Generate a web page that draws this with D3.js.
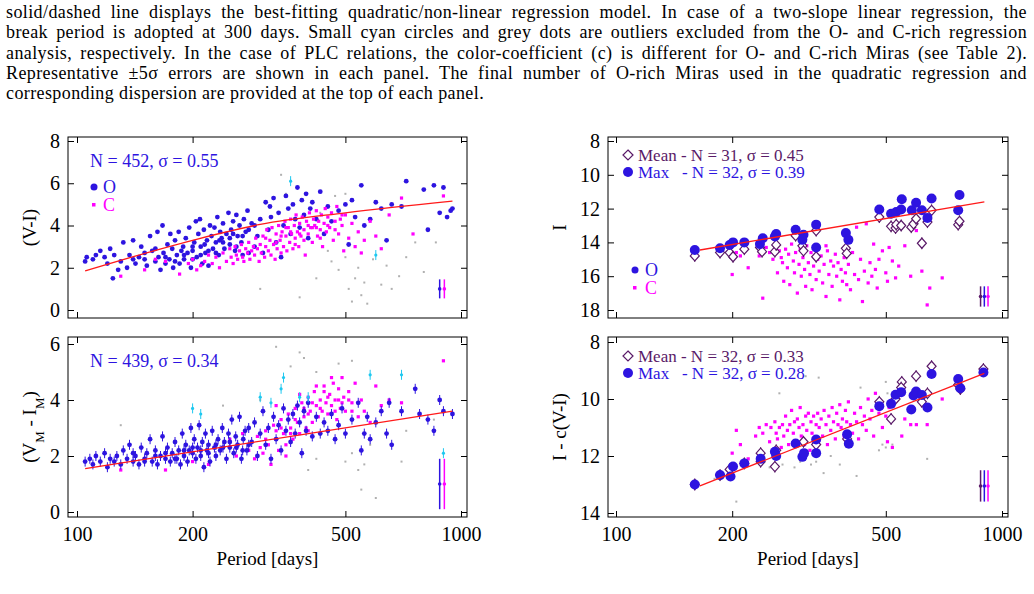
<!DOCTYPE html>
<html><head><meta charset="utf-8">
<script src="https://cdn.jsdelivr.net/npm/d3@7"></script>
<style>
body{margin:0;background:#fff;}
text{font-family:"Liberation Serif","Times New Roman",serif;}
</style></head>
<body><svg id="fig" width="1034" height="594"></svg>
<script>
// caption lines
const captionLines = [
  "solid/dashed line displays the best-fitting quadratic/non-linear regression model. In case of a two-slope linear regression, the",
  "break period is adopted at 300 days. Small cyan circles and grey dots are outliers excluded from the O- and C-rich regression",
  "analysis, respectively. In the case of PLC relations, the color-coefficient (c) is different for O- and C-rich Miras (see Table 2).",
  "Representative \u00b15\u03c3 errors are shown in each panel. The final number of O-rich Miras used in the quadratic regression and",
  "corresponding dispersion are provided at the top of each panel."
];

const periodTicks = [100, 200, 500, 1000];

// panel A: (V-I)
const aO = [[105,2.3],[106,2.5],[110,2.4],[112,2.6],[115,2.8],[118,2.5],[120,2.2],[122,2.9],[124,1.5],[125,2.6],[128,1.9],[130,2.3],[132,3.2],[135,2.0],[137,2.6],[140,3.3],[142,2.2],[145,2.5],[147,3.0],[150,2.4],[152,2.1],[155,3.5],[157,2.8],[160,2.3],[162,3.7],[163,2.5],[165,1.9],[167,4.0],[168,2.7],[170,2.2],[172,3.1],[174,2.4],[175,3.6],[177,2.9],[178,2.0],[180,3.3],[182,2.6],[184,3.7],[185,2.2],[187,2.8],[189,3.0],[190,2.4],[192,3.4],[194,2.7],[196,3.9],[198,2.0],[200,2.8],[202,3.2],[204,4.2],[205,2.5],[207,3.6],[209,4.3],[210,3.0],[212,2.2],[214,3.8],[216,2.7],[218,3.3],[220,2.1],[222,4.0],[224,3.5],[226,2.9],[228,3.9],[230,3.2],[232,4.4],[234,2.6],[236,3.7],[238,3.4],[240,4.1],[242,2.9],[245,3.6],[248,4.6],[250,3.1],[252,3.8],[255,4.2],[258,2.8],[260,4.5],[262,3.5],[265,4.0],[268,3.2],[270,2.6],[272,4.3],[275,3.7],[278,4.7],[280,2.7],[285,4.1],[290,3.0],[295,3.5],[300,4.3],[305,2.7],[310,5.1],[315,3.8],[318,4.9],[320,4.4],[325,5.3],[330,3.2],[335,4.6],[340,2.5],[345,4.0],[350,5.4],[355,4.8],[360,3.6],[365,5.0],[370,4.3],[375,5.8],[380,3.9],[385,5.2],[390,4.5],[395,5.5],[400,3.4],[405,4.8],[410,5.1],[420,4.3],[430,5.6],[440,3.6],[450,4.9],[460,4.2],[480,4.7],[500,5.0],[510,3.1],[520,5.2],[530,4.4],[550,5.9],[560,4.0],[580,4.3],[600,5.1],[620,4.8],[640,3.3],[660,5.0],[700,4.9],[720,6.1],[800,5.7],[820,3.8],[850,5.9],[880,4.6],[900,5.8],[920,4.4],[940,4.7],[950,4.8],[140,2.4],[150,2.7],[160,2.9],[170,2.5],[180,2.3],[190,2.6],[200,2.4],[210,2.6],[220,2.8],[230,2.7],[240,3.2],[250,3.4],[260,3.0],[270,3.5],[280,3.8],[200,3.0],[215,3.1],[235,3.3],[255,3.6],[290,4.0]];
const aC = [[130,1.6],[150,1.9],[160,2.4],[170,2.3],[185,1.7],[195,2.2],[200,2.4],[205,1.9],[210,2.1],[215,2.3],[220,2.6],[225,2.2],[230,2.5],[235,2.0],[240,2.7],[245,2.3],[250,2.9],[252,2.5],[255,2.2],[258,3.0],[260,2.6],[262,2.4],[265,2.8],[268,3.1],[270,2.5],[272,2.3],[275,2.9],[278,2.7],[280,3.2],[282,2.4],[285,2.8],[288,3.0],[290,2.6],[292,3.4],[295,2.9],[298,2.3],[300,3.1],[302,2.7],[305,3.5],[308,2.5],[310,3.0],[312,3.8],[315,2.8],[318,3.3],[320,2.6],[322,3.9],[325,3.1],[328,2.4],[330,3.6],[332,2.9],[335,4.0],[338,3.3],[340,2.7],[342,3.7],[345,3.0],[348,4.2],[350,3.5],[352,2.8],[355,3.9],[358,3.2],[360,4.3],[362,3.6],[365,2.9],[368,4.0],[370,3.4],[372,4.5],[375,3.7],[378,3.0],[380,4.1],[383,3.5],[386,4.4],[390,3.8],[393,2.6],[396,4.2],[400,3.6],[403,4.6],[406,3.9],[410,3.2],[413,4.3],[416,4.0],[420,4.7],[423,3.5],[426,4.2],[430,3.8],[433,4.5],[436,3.0],[440,4.1],[443,4.8],[446,3.7],[450,4.4],[455,3.9],[460,4.6],[465,3.3],[470,4.2],[475,4.9],[480,3.6],[485,4.3],[490,4.0],[495,2.8],[500,4.5],[510,3.4],[520,4.1],[530,3.0],[540,3.7],[550,2.7],[560,3.3],[580,4.2],[600,3.5],[620,2.9],[650,4.5],[700,5.3],[750,3.6],[900,5.4],[310,3.4],[330,3.2],[350,3.9],[370,3.1],[390,3.3],[410,3.9],[430,3.4],[450,4.0],[470,3.8],[490,4.5],[340,3.5],[360,3.7],[380,3.6],[400,4.0],[420,3.9]];
const aGrey = [[340,6.4],[300,1.0],[380,0.6],[420,1.5],[450,2.8],[460,2.3],[480,1.9],[500,2.5],[510,1.0],[520,0.4],[530,1.5],[540,2.0],[550,0.7],[560,1.3],[570,0.3],[590,2.4],[620,1.2],[640,2.1],[660,1.0],[690,1.6],[720,2.5],[760,3.2],[800,1.8],[860,3.2],[470,5.4],[500,5.5],[430,4.6],[350,5.5]];
const aCyan = [[360,6.1],[600,2.6]];
const aFit = [[105,1.85],[200,3.3],[300,4.05],[500,4.6],[950,5.15]];

// panel B: (VM - IM)
const bO = [[105,1.8],[108,1.9],[110,1.7],[112,2.0],[115,1.8],[118,2.1],[120,1.6],[122,1.9],[125,1.8],[127,2.0],[130,1.7],[132,2.2],[135,1.9],[137,2.4],[140,1.8],[142,2.0],[145,1.7],[147,2.3],[150,1.9],[152,2.1],[155,2.6],[157,1.8],[160,2.2],[162,1.7],[165,2.0],[167,2.7],[170,1.9],[172,2.3],[175,1.8],[177,2.1],[180,2.5],[182,1.9],[184,2.2],[186,1.7],[188,2.8],[190,2.0],[192,2.4],[194,1.8],[196,2.2],[198,3.0],[200,2.1],[202,2.6],[204,1.9],[206,2.3],[208,3.1],[210,2.0],[212,2.5],[214,1.6],[216,2.8],[218,2.2],[220,2.4],[222,1.8],[225,2.9],[228,2.3],[230,2.0],[233,2.6],[236,2.2],[239,3.0],[242,2.5],[245,1.9],[248,2.8],[250,2.3],[253,3.3],[256,2.1],[259,2.7],[262,2.4],[265,3.4],[268,1.9],[271,2.6],[274,2.9],[277,2.2],[280,3.0],[285,2.5],[290,3.2],[295,2.0],[300,2.8],[305,3.6],[310,2.4],[315,3.0],[320,1.9],[325,3.4],[330,2.6],[335,3.1],[340,2.2],[345,3.7],[350,2.9],[355,3.3],[360,2.5],[365,3.5],[370,2.8],[375,3.8],[380,3.2],[385,2.1],[390,3.6],[395,2.9],[400,3.9],[410,2.7],[420,3.4],[430,2.8],[440,3.2],[450,2.9],[460,3.5],[470,2.6],[480,3.1],[490,3.7],[500,2.8],[520,3.3],[540,3.9],[550,2.2],[560,2.8],[570,3.4],[580,2.6],[600,3.2],[620,3.6],[640,2.8],[650,3.9],[660,2.4],[700,3.6],[760,4.4],[780,3.5],[820,3.3],[850,2.9],[880,4.0],[900,3.6],[950,3.5],[140,2.1],[150,1.8],[160,2.0],[170,2.1],[180,1.9],[190,2.2],[200,2.3],[210,2.2],[220,2.1],[230,2.4],[240,2.3],[250,2.5],[260,2.3],[270,2.2],[280,2.4]];
const bC = [[130,1.5],[170,1.5],[200,1.8],[220,1.7],[240,2.3],[250,2.6],[260,2.0],[270,2.8],[280,2.2],[285,2.5],[290,1.9],[295,2.7],[300,2.3],[305,2.1],[310,2.9],[315,2.4],[320,1.7],[325,3.1],[330,2.6],[335,2.2],[340,3.3],[345,2.8],[350,2.4],[355,3.5],[360,3.0],[365,2.6],[370,3.7],[375,3.2],[380,2.8],[385,3.9],[390,3.4],[395,3.0],[400,4.1],[405,3.6],[410,3.2],[415,4.3],[420,3.8],[425,3.4],[430,4.0],[435,3.6],[440,4.5],[445,3.9],[450,3.5],[455,4.2],[460,3.8],[465,4.6],[470,4.0],[475,3.3],[480,4.4],[485,3.7],[490,4.8],[495,4.1],[500,3.6],[510,4.3],[520,3.9],[530,4.6],[540,3.4],[550,4.0],[560,3.6],[580,3.2],[600,4.5],[620,3.8],[650,4.0],[700,3.9],[900,5.4],[330,3.8],[380,4.2],[420,4.5],[350,2.0],[400,2.9],[460,4.8],[440,4.3],[310,2.6],[330,2.9],[360,2.8],[390,3.7],[410,3.9],[430,3.7],[450,4.1],[470,3.6],[490,3.9],[510,4.0],[340,3.0],[370,3.3],[400,3.5],[480,4.0],[520,3.6]];
const bGrey = [[330,5.9],[360,5.2],[380,5.7],[390,5.5],[420,5.0],[480,5.3],[520,5.4],[240,3.8],[130,3.1],[600,0.5],[550,0.8],[540,1.5],[560,1.7],[580,2.4],[400,1.5],[420,1.9],[500,1.8],[520,2.1],[700,1.8],[720,2.9],[850,3.3],[300,4.0]];
const bCyan = [[200,3.7],[210,3.5],[320,3.9],[340,4.4],[345,4.8],[300,4.1],[380,4.1],[400,4.1],[580,4.9],[700,4.9],[900,2.1]];
const bFit = [[105,1.55],[950,3.6]];

// panel C: I
const cMax = [[160,14.45],[186,14.35],[197,14.15],[201,14.0],[215,14.0],[236,14.1],[240,13.75],[258,13.65],[260,13.5],[292,13.25],[306,13.55],[304,13.85],[330,12.95],[330,14.3],[394,13.45],[400,13.85],[481,12.05],[516,12.3],[532,12.2],[550,11.45],[548,12.05],[584,12.1],[599,11.65],[620,12.1],[641,12.55],[657,11.4],[770,12.1],[776,11.2]];
const cMean = [[160,14.8],[186,14.6],[197,14.6],[201,14.85],[215,14.4],[236,14.3],[239,14.55],[258,14.55],[260,14.15],[292,13.6],[304,14.2],[306,14.5],[330,13.3],[330,14.85],[394,14.35],[396,14.65],[481,12.5],[516,13.05],[530,13.15],[532,12.95],[548,13.0],[582,13.1],[590,12.9],[599,12.6],[620,14.05],[641,12.8],[657,12.1],[770,12.95],[776,12.75]];
const cC = [[200,15.9],[205,14.6],[210,14.8],[215,14.5],[220,15.5],[235,14.8],[240,17.3],[245,14.3],[250,14.6],[255,15.0],[258,14.2],[262,15.8],[265,14.5],[268,14.9],[270,15.2],[272,16.3],[275,14.4],[278,15.5],[280,14.7],[282,16.5],[285,14.1],[288,15.1],[290,15.8],[292,14.6],[295,17.0],[298,15.3],[300,14.4],[302,16.0],[305,14.9],[308,15.6],[310,16.6],[312,14.2],[315,15.2],[318,15.9],[320,14.6],[322,16.8],[325,15.4],[328,14.3],[330,16.2],[333,15.0],[336,15.7],[340,14.8],[343,16.4],[346,15.3],[350,17.2],[353,14.5],[356,15.9],[360,15.1],[363,16.6],[366,15.4],[370,14.7],[373,16.0],[376,15.2],[380,17.4],[383,15.6],[386,16.3],[390,14.9],[393,15.8],[396,16.5],[400,15.3],[405,16.8],[410,14.6],[415,15.9],[420,13.1],[425,16.2],[430,15.0],[435,17.5],[440,15.7],[445,12.9],[450,16.4],[455,15.2],[460,16.0],[465,14.1],[470,15.6],[475,16.7],[480,15.0],[490,14.5],[500,15.8],[505,16.3],[510,14.3],[520,15.1],[530,16.1],[540,15.4],[560,14.2],[580,16.0],[600,13.3],[620,15.7],[640,17.7],[650,16.7],[700,16.1],[350,14.2],[300,13.9]];
const cFit = [[165,14.45],[900,11.6]];

// panel D: I - c(V-I)
const dMax = [[160,13.0],[186,12.67],[198,12.72],[201,12.37],[215,12.26],[237,12.1],[258,11.85],[260,12.0],[292,11.56],[304,12.03],[307,11.9],[330,11.9],[330,11.42],[397,11.24],[401,11.57],[481,10.25],[516,10.17],[530,9.85],[548,9.76],[582,10.37],[590,9.88],[599,9.74],[620,9.86],[641,10.3],[657,9.12],[770,9.3],[780,9.62],[895,9.07]];
const dMean = [[160,13.0],[186,12.67],[197,12.47],[215,12.26],[237,11.9],[237,12.2],[258,12.37],[260,11.8],[306,11.5],[330,11.6],[397,11.4],[481,10.1],[516,10.7],[530,10.0],[550,9.4],[548,9.6],[599,9.2],[620,10.1],[641,9.8],[657,8.85],[770,9.5],[780,9.65],[895,8.95]];
const dC = [[200,11.9],[205,11.1],[210,11.6],[220,12.1],[230,11.3],[235,11.0],[240,11.2],[245,10.9],[250,11.5],[252,11.0],[255,11.8],[258,10.8],[260,11.2],[262,11.4],[265,11.0],[268,11.7],[270,10.9],[272,11.3],[275,10.6],[278,11.1],[280,11.6],[282,10.9],[285,10.4],[288,11.2],[290,10.8],[292,11.5],[295,10.7],[298,11.0],[300,10.3],[302,11.3],[305,10.9],[308,11.6],[310,10.6],[312,11.1],[315,10.5],[318,11.8],[320,10.8],[322,11.2],[325,10.6],[328,11.4],[330,10.9],[333,10.5],[336,11.0],[340,10.7],[343,11.3],[346,10.4],[350,10.9],[353,11.6],[356,10.6],[360,11.1],[363,10.3],[366,10.8],[370,11.4],[373,10.5],[376,10.9],[380,10.2],[383,11.0],[386,10.7],[390,11.3],[393,10.4],[396,10.8],[400,10.1],[405,10.9],[410,11.2],[415,10.5],[420,10.8],[425,11.4],[430,10.3],[435,10.9],[440,10.6],[445,11.1],[450,10.0],[455,10.7],[460,10.4],[465,11.3],[470,9.8],[480,10.5],[490,11.0],[500,10.6],[505,11.5],[510,10.3],[520,11.7],[530,9.9],[550,11.3],[560,10.7],[580,10.9],[600,10.9],[640,10.9],[700,10.0],[620,10.2]];
const dGrey = [[265,9.8],[310,9.2],[335,9.25],[430,9.6],[500,9.4],[505,9.8],[180,12.8],[205,13.6],[250,12.4],[270,12.3],[290,12.4],[300,12.2],[320,12.3],[330,12.2],[345,12.6],[360,12.0],[380,12.3],[420,12.7],[480,11.8],[490,11.6],[500,11.7],[520,11.6],[640,12.1],[400,11.6]];
const dFit = [[165,13.05],[900,9.1]];

const BLUE = "#2d14e0", MAG = "#ff00ff", GREY = "#b0b0b0", CYAN = "#1ec8f0", RED = "#ff1a1a", PURP = "#5a1a68";

const svg = d3.select('#fig');

// caption, justified with word spacing
captionLines.forEach((t, i) => {
  const el = svg.append('text').attr('x', 6).attr('y', 18 + i * 20.3)
    .attr('font-size', '18px').attr('letter-spacing', '0.4').text(t);
  if (i < captionLines.length - 1) {
    const w = el.node().getComputedTextLength();
    const gaps = t.split(' ').length - 1;
    el.attr('word-spacing', Math.max(0, (1021 - w) / gaps).toFixed(2));
  }
});

function panel(o) {
  const x = d3.scaleLog().domain([100, 1000]).range(o.xr);
  const y = d3.scaleLinear().domain(o.yd).range(o.yr);
  const g = svg.append('g');
  const [fx0, fx1, fy0, fy1] = o.frame;
  const clip = 'clip' + o.id;
  g.append('clipPath').attr('id', clip).append('rect')
    .attr('x', fx0).attr('y', fy0).attr('width', fx1 - fx0).attr('height', fy1 - fy0);
  const plot = g.append('g').attr('clip-path', `url(#${clip})`);

  // axes with inward ticks
  const bottom = g.append('g').attr('transform', `translate(0,${fy1})`)
    .call(d3.axisBottom(x).tickValues(periodTicks).tickSize(-6).tickPadding(10).tickFormat(d3.format('d')))
    .call(a => a.select('.domain').remove());
  g.append('g').attr('transform', `translate(0,${fy0})`)
    .call(d3.axisTop(x).tickValues(periodTicks).tickSize(-6).tickFormat(''))
    .call(a => a.select('.domain').remove());
  g.append('g').attr('transform', `translate(${fx0},0)`)
    .call(d3.axisLeft(y).tickValues(o.yticks).tickSize(-6).tickPadding(8).tickFormat(d3.format('d')))
    .call(a => a.select('.domain').remove());
  g.append('g').attr('transform', `translate(${fx1},0)`)
    .call(d3.axisRight(y).tickValues(o.yticks).tickSize(-6).tickFormat(''))
    .call(a => a.select('.domain').remove());
  g.selectAll('.tick text').attr('font-family', '"Liberation Serif",serif').attr('font-size', '20px').attr('fill', '#000');
  if (!o.xlabels) bottom.selectAll('.tick text').remove();
  g.selectAll('.tick line').attr('stroke', '#000');

  const grey = o.grey || [];
  plot.selectAll('.gr').data(grey).enter().append('rect')
    .attr('x', d => x(d[0]) - 1).attr('y', d => y(d[1]) - 1).attr('width', 2).attr('height', 2).attr('fill', GREY);
  o.draw(plot, x, y);

  plot.append('path').datum(o.fit)
    .attr('d', d3.line().x(d => x(d[0])).y(d => y(d[1])).curve(d3.curveMonotoneX))
    .attr('fill', 'none').attr('stroke', RED).attr('stroke-width', 1.3);

  g.append('rect').attr('x', fx0).attr('y', fy0).attr('width', fx1 - fx0).attr('height', fy1 - fy0)
    .attr('fill', 'none').attr('stroke', '#000').attr('stroke-width', 1);

  // error bar samples
  o.errs.forEach(e => {
    g.append('line').attr('x1', x(e.p)).attr('x2', x(e.p)).attr('y1', y(e.v - e.s)).attr('y2', y(e.v + e.s))
      .attr('stroke', e.c).attr('stroke-width', 1.5);
    g.append('circle').attr('cx', x(e.p)).attr('cy', y(e.v)).attr('r', 1.8).attr('fill', e.c);
  });

  // y label
  const lab = g.append('text').attr('transform', `translate(${o.ylx},${(fy0 + fy1) / 2}) rotate(-90)`)
    .attr('text-anchor', 'middle').attr('font-size', '19px');
  o.ylabel(lab);
  if (o.xlabels) g.append('text').attr('x', (fx0 + fx1) / 2).attr('y', fy1 + 48).attr('text-anchor', 'middle')
    .attr('font-size', '19px').text('Period [days]');
  return g;
}

function smallO(p, data, x, y, err) {
  data.forEach(d => {
    if (err) p.append('line').attr('x1', x(d[0])).attr('x2', x(d[0])).attr('y1', y(d[1]) - 5).attr('y2', y(d[1]) + 5)
      .attr('stroke', BLUE).attr('stroke-width', 1);
    p.append('circle').attr('cx', x(d[0])).attr('cy', y(d[1])).attr('r', 2.4).attr('fill', BLUE);
  });
}
function smallC(p, data, x, y) {
  p.selectAll(null).data(data).enter().append('rect')
    .attr('x', d => x(d[0]) - 1.6).attr('y', d => y(d[1]) - 1.6).attr('width', 3.2).attr('height', 3.2).attr('fill', MAG);
}
function cyan(p, data, x, y) {
  data.forEach(d => {
    p.append('line').attr('x1', x(d[0])).attr('x2', x(d[0])).attr('y1', y(d[1]) - 5).attr('y2', y(d[1]) + 5).attr('stroke', CYAN);
    p.append('circle').attr('cx', x(d[0])).attr('cy', y(d[1])).attr('r', 1.6).attr('fill', CYAN);
  });
}
function diamonds(p, data, x, y) {
  data.forEach(d => {
    const cx = x(d[0]), cy = y(d[1]);
    p.append('line').attr('x1', cx).attr('x2', cx).attr('y1', cy - 6).attr('y2', cy + 6).attr('stroke', PURP);
    p.append('path').attr('d', `M${cx},${cy - 5}L${cx + 4.5},${cy}L${cx},${cy + 5}L${cx - 4.5},${cy}Z`)
      .attr('fill', '#fff').attr('stroke', PURP).attr('stroke-width', 1.2);
  });
}
function bigO(p, data, x, y) {
  p.selectAll(null).data(data).enter().append('circle')
    .attr('cx', d => x(d[0])).attr('cy', d => y(d[1])).attr('r', 5).attr('fill', BLUE);
}

const LX = [77, 461], RX = [616, 1002];

panel({ id: 'a', xr: LX, yd: [0, 8], yr: [310, 141], frame: [68, 467, 137, 318], yticks: [0, 2, 4, 6, 8],
  fit: aFit, grey: aGrey, ylx: 36, xlabels: false,
  draw: (p, x, y) => { smallO(p, aO, x, y, false); smallC(p, aC, x, y); cyan(p, aCyan, x, y); },
  errs: [{ p: 880, v: 1, s: 0.45, c: BLUE }, { p: 905, v: 1, s: 0.45, c: MAG }],
  ylabel: t => t.text('(V-I)') });
panel({ id: 'b', xr: LX, yd: [0, 6], yr: [512, 344], frame: [68, 467, 337, 517], yticks: [0, 2, 4, 6],
  fit: bFit, grey: bGrey, ylx: 36, xlabels: true,
  draw: (p, x, y) => { smallC(p, bC, x, y); smallO(p, bO, x, y, true); cyan(p, bCyan, x, y); },
  errs: [{ p: 880, v: 1, s: 0.9, c: BLUE }, { p: 905, v: 1, s: 0.9, c: MAG }],
  ylabel: t => { t.text('(V'); t.append('tspan').attr('baseline-shift', 'sub').attr('font-size', '13px').text('M');
    t.append('tspan').text(' - I'); t.append('tspan').attr('baseline-shift', 'sub').attr('font-size', '13px').text('M');
    t.append('tspan').text(')'); } });
panel({ id: 'c', xr: RX, yd: [8, 18], yr: [141, 310], frame: [608, 1008, 137, 318], yticks: [8, 10, 12, 14, 16, 18],
  fit: cFit, grey: [], ylx: 566, xlabels: false,
  draw: (p, x, y) => { smallC(p, cC, x, y); diamonds(p, cMean, x, y); bigO(p, cMax, x, y); },
  errs: [{ p: 880, v: 17.2, s: 0.6, c: PURP }, { p: 900, v: 17.2, s: 0.6, c: BLUE }, { p: 920, v: 17.2, s: 0.6, c: MAG }],
  ylabel: t => t.text('I') });
panel({ id: 'd', xr: RX, yd: [8, 14], yr: [342, 513], frame: [608, 1008, 337, 517], yticks: [8, 10, 12, 14],
  fit: dFit, grey: dGrey, ylx: 566, xlabels: true,
  draw: (p, x, y) => { smallC(p, dC, x, y); diamonds(p, dMean, x, y); bigO(p, dMax, x, y); },
  errs: [{ p: 880, v: 13.05, s: 0.55, c: PURP }, { p: 900, v: 13.05, s: 0.55, c: BLUE }, { p: 920, v: 13.05, s: 0.55, c: MAG }],
  ylabel: t => t.text('I - c(V-I)') });

// legends
function txt(x, y, s, c, size) {
  return svg.append('text').attr('x', x).attr('y', y).attr('fill', c).attr('font-size', size || '18px').text(s);
}
txt(90, 167, 'N = 452, \u03c3 = 0.55', BLUE);
svg.append('circle').attr('cx', 94).attr('cy', 187).attr('r', 3.5).attr('fill', BLUE);
txt(103, 193, 'O', BLUE);
svg.append('rect').attr('x', 92).attr('y', 203).attr('width', 3.5).attr('height', 3.5).attr('fill', MAG);
txt(103, 211, 'C', MAG);
txt(90, 367, 'N = 439, \u03c3 = 0.34', BLUE);

function rightLegend(y0, meanS, maxS) {
  svg.append('path').attr('d', `M628,${y0 - 11}L633,${y0 - 6}L628,${y0 - 1}L623,${y0 - 6}Z`)
    .attr('fill', '#fff').attr('stroke', PURP).attr('stroke-width', 1.2);
  txt(638, y0, meanS, PURP, '17px');
  svg.append('circle').attr('cx', 628).attr('cy', y0 + 11).attr('r', 5).attr('fill', BLUE);
  txt(638, y0 + 17, maxS, BLUE, '17px').style('white-space', 'pre');
}
rightLegend(161, 'Mean - N = 31, \u03c3 = 0.45', 'Max   - N = 32, \u03c3 = 0.39');
rightLegend(362, 'Mean - N = 32, \u03c3 = 0.33', 'Max   - N = 32, \u03c3 = 0.28');
svg.append('circle').attr('cx', 635).attr('cy', 270).attr('r', 3.5).attr('fill', BLUE);
txt(645, 276, 'O', BLUE);
svg.append('rect').attr('x', 633).attr('y', 286).attr('width', 3.5).attr('height', 3.5).attr('fill', MAG);
txt(645, 294, 'C', MAG);
</script></body></html>
